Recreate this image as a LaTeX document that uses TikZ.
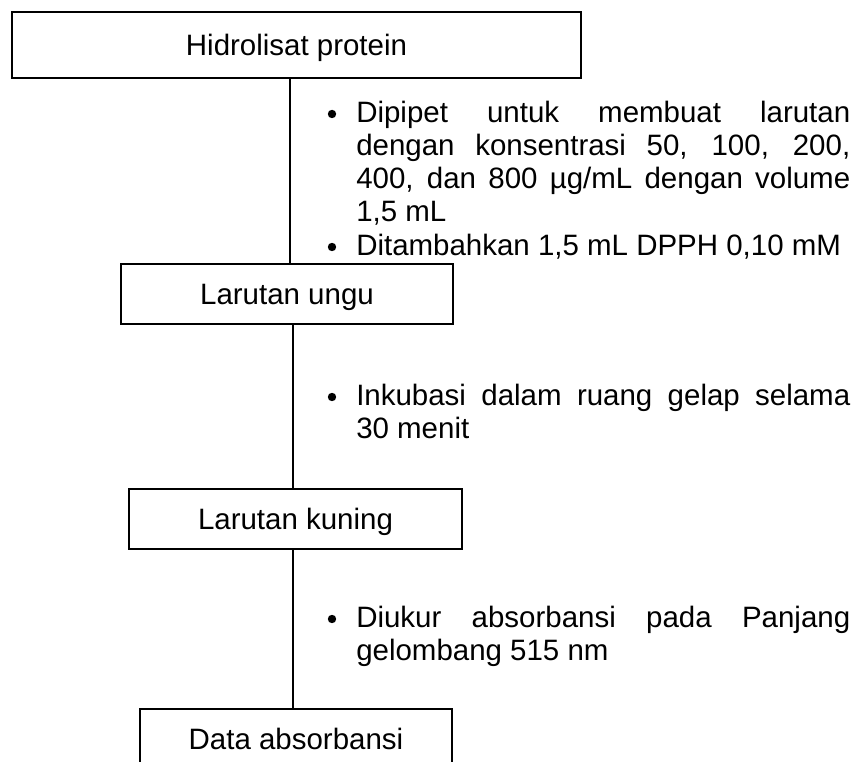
\documentclass[tikz,border=0pt]{standalone}
\usepackage{fontspec}
\setmainfont{Liberation Sans}
% text size and line pitch of the step notes
\newcommand{\notefont}{\fontsize{22.1pt}{24.75pt}\selectfont\baselineskip=24.75pt\relax}
\begin{document}
\begin{tikzpicture}[x=0.75pt,y=-0.75pt,
  every node/.style={font=\fontsize{22.1pt}{24.75pt}\selectfont},
  stepbox/.style={draw, line width=1.6pt, inner sep=0pt, text height=16pt, text depth=0pt},
  link/.style={line width=1.2pt},
  note/.style={anchor=north west, inner sep=0pt, text width=370.5pt, align=justify},
  dot/.style={circle, fill, inner sep=0pt, minimum size=6.3pt}]
\clip (0,0) rectangle (856,762);

% process boxes
\node[stepbox, minimum width=426.75pt, minimum height=49.5pt] (b1) at (296.5,45) {Hidrolisat protein};
\node[stepbox, minimum width=249pt, minimum height=45pt] (b2) at (287,294) {Larutan ungu};
\node[stepbox, minimum width=249.75pt, minimum height=45pt] (b3) at (295.5,519) {Larutan kuning};
\node[stepbox, minimum width=234pt, minimum height=45pt] (b4) at (296,739) {Data absorbansi};

% vertical connectors
\coordinate (l1) at (290,0);
\coordinate (l2) at (293,0);
\draw[link] (b1.south -| l1) -- (b2.north -| l1);
\draw[link] (b2.south -| l2) -- (b3.north -| l2);
\draw[link] (b3.south -| l2) -- (b4.north -| l2);

% step notes
\hyphenpenalty=10000 \exhyphenpenalty=10000 \tolerance=10000
\node[dot] (p1) at (332,114) {};
\node[note] (t1) at (356,98.9) {\notefont\strut Dipipet untuk membuat larutan\linebreak dengan konsentrasi 50, 100, 200,\linebreak 400, dan 800 µg/mL dengan volume\linebreak 1,5 mL\par};
\node[dot] (p2) at (332,247) {};
\node[note] (t2) at (356,231.9) {\notefont\strut Ditambahkan 1,5 mL DPPH 0,10 mM\par};

\node[dot] (p3) at (332,397) {};
\node[note] (t3) at (356,381.9) {\notefont\strut Inkubasi dalam ruang gelap selama\linebreak 30 menit\par};

\node[dot] (p4) at (332,619) {};
\node[note] (t4) at (356,603.9) {\notefont\strut Diukur absorbansi pada Panjang\linebreak gelombang 515 nm\par};
\end{tikzpicture}
\end{document}
